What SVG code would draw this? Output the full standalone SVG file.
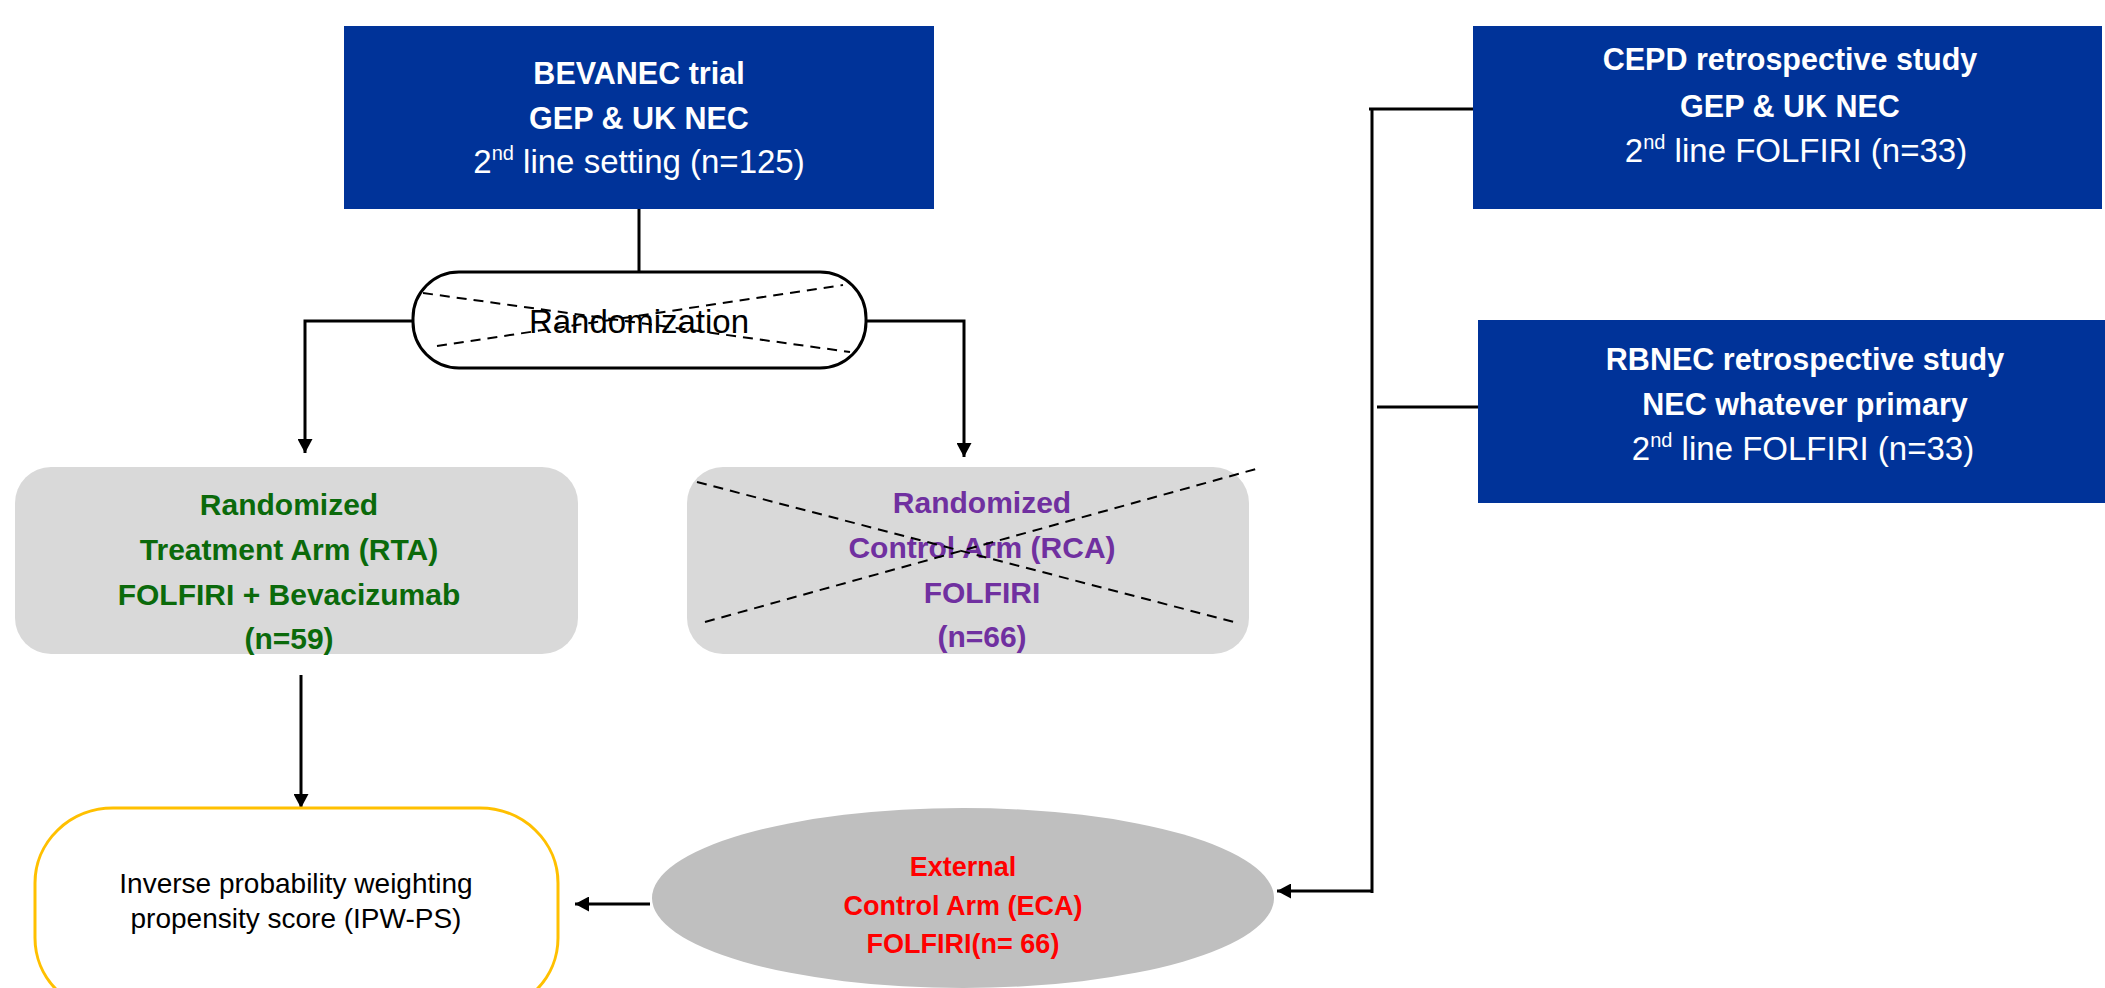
<svg xmlns="http://www.w3.org/2000/svg" width="2105" height="988" viewBox="0 0 2105 988">
<style>
text{font-family:"Liberation Sans",Arial,sans-serif;text-anchor:middle}
.wb{fill:#fff;font-weight:bold;font-size:30.5px}
.wr{fill:#fff;font-size:33px}
.blue{fill:#003399}
.gray{fill:#D9D9D9}
.con{fill:none;stroke:#000;stroke-width:3}
.dash{fill:none;stroke:#000;stroke-width:2;stroke-dasharray:10 7}
.g{fill:#0B6A0B;font-weight:bold;font-size:30px}
.p{fill:#7030A0;font-weight:bold;font-size:30px}
.r{fill:#FF0000;font-weight:bold;font-size:27px}
</style>
<defs>
<marker id="ah" viewBox="0 0 14 15" markerWidth="14" markerHeight="15" refX="14" refY="7.5" orient="auto" markerUnits="userSpaceOnUse">
<path d="M0,0 L14,7.5 L0,15 z" fill="#000"/>
</marker>
</defs>

<g id="connectors">
<path class="con" d="M639,209 V272"/>
<path class="con" d="M413,321 H305 V453" marker-end="url(#ah)"/>
<path class="con" d="M866,321 H964 V457" marker-end="url(#ah)"/>
<path class="con" d="M301,675 V808" marker-end="url(#ah)"/>
<path class="con" d="M650,904 H575" marker-end="url(#ah)"/>
<path class="con" d="M1473,109 H1369"/>
<path class="con" d="M1372,109 V893"/>
<path class="con" d="M1482,407 H1377"/>
<path class="con" d="M1372,891 H1277" marker-end="url(#ah)"/>
</g>

<g id="bevanec">
<rect class="blue" x="344" y="26" width="590" height="183"/>
<text class="wb" x="639" y="84">BEVANEC trial</text>
<text class="wb" x="639" y="129">GEP &amp; UK NEC</text>
<text class="wr" x="639" y="173">2<tspan font-size="20" dy="-13">nd</tspan><tspan dy="13"> line setting (n=125)</tspan></text>
</g>

<g id="randomization">
<rect x="413" y="272" width="453" height="96" rx="46" ry="46" fill="#fff" stroke="#000" stroke-width="3"/>
<text x="639" y="333" font-size="33" fill="#000">Randomization</text>
<line class="dash" x1="423" y1="293" x2="850" y2="352"/>
<line class="dash" x1="437" y1="346" x2="843" y2="285"/>
</g>

<g id="rta">
<rect class="gray" x="15" y="467" width="563" height="187" rx="36" ry="36"/>
<text class="g" x="289" y="515">Randomized</text>
<text class="g" x="289" y="560">Treatment Arm (RTA)</text>
<text class="g" x="289" y="605">FOLFIRI + Bevacizumab</text>
<text class="g" x="289" y="649">(n=59)</text>
</g>

<g id="rca">
<rect class="gray" x="687" y="467" width="562" height="187" rx="36" ry="36"/>
<text class="p" x="982" y="513">Randomized</text>
<text class="p" x="982" y="558">Control Arm (RCA)</text>
<text class="p" x="982" y="603">FOLFIRI</text>
<text class="p" x="982" y="647">(n=66)</text>
<line class="dash" x1="697" y1="482" x2="1234" y2="622"/>
<line class="dash" x1="705" y1="622" x2="1256" y2="469"/>
</g>

<g id="ipw">
<rect x="35" y="808" width="523" height="205" rx="78" ry="75" fill="#fff" stroke="#FFC000" stroke-width="3"/>
<text x="296" y="893" font-size="28" fill="#000">Inverse probability weighting</text>
<text x="296" y="928" font-size="28" fill="#000">propensity score (IPW-PS)</text>
</g>

<g id="eca">
<ellipse cx="963" cy="898" rx="311" ry="90" fill="#BFBFBF"/>
<text class="r" x="963" y="876">External</text>
<text class="r" x="963" y="915">Control Arm (ECA)</text>
<text class="r" x="963" y="953">FOLFIRI(n= 66)</text>
</g>

<g id="cepd">
<rect class="blue" x="1473" y="26" width="629" height="183"/>
<text class="wb" x="1790" y="70">CEPD retrospective study</text>
<text class="wb" x="1790" y="117">GEP &amp; UK NEC</text>
<text class="wr" x="1796" y="162">2<tspan font-size="20" dy="-13">nd</tspan><tspan dy="13"> line FOLFIRI (n=33)</tspan></text>
</g>

<g id="rbnec">
<rect class="blue" x="1478" y="320" width="627" height="183"/>
<text class="wb" x="1805" y="370">RBNEC retrospective study</text>
<text class="wb" x="1805" y="415">NEC whatever primary</text>
<text class="wr" x="1803" y="460">2<tspan font-size="20" dy="-13">nd</tspan><tspan dy="13"> line FOLFIRI (n=33)</tspan></text>
</g>
</svg>
